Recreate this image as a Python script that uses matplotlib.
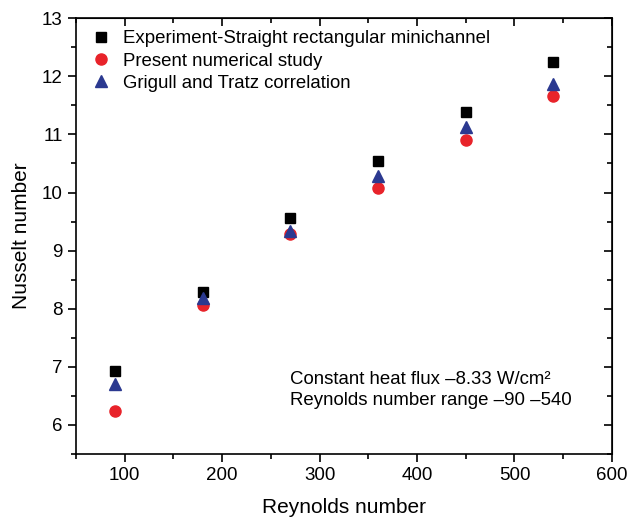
import matplotlib.pyplot as plt
from matplotlib.ticker import MultipleLocator

plt.rcParams['font.family'] = ['Liberation Sans', 'DejaVu Sans']

# Nusselt number vs Reynolds number
reynolds = [90, 180, 270, 360, 450, 540]
nu_experiment = [6.93, 8.28, 9.56, 10.55, 11.38, 12.24]
nu_numerical = [6.24, 8.06, 9.28, 10.07, 10.90, 11.66]
nu_grigull = [6.71, 8.18, 9.33, 10.29, 11.13, 11.86]

fig = plt.figure(figsize=(6.27, 5.2), dpi=100)
ax = fig.add_axes([0.121, 0.127, 0.855, 0.838])

ax.plot(reynolds, nu_experiment, 's', color='black', markersize=7,
        label='Experiment-Straight rectangular minichannel')
ax.plot(reynolds, nu_numerical, 'o', color='#e8232a', markersize=8,
        label='Present numerical study')
ax.plot(reynolds, nu_grigull, '^', color='#2b3990', markersize=9,
        label='Grigull and Tratz correlation')

ax.set_xlim(50, 600)
ax.set_ylim(5.5, 13)
ax.xaxis.set_major_locator(MultipleLocator(100))
ax.xaxis.set_minor_locator(MultipleLocator(50))
ax.yaxis.set_major_locator(MultipleLocator(1))
ax.yaxis.set_minor_locator(MultipleLocator(0.5))

ax.tick_params(which='both', direction='out', labelsize=13.5, width=1.2)
ax.tick_params(which='major', length=6)
ax.tick_params(which='minor', length=3.5)
for s in ax.spines.values():
    s.set_linewidth(1.2)

# inward ticks on the top and right edges
top = ax.secondary_xaxis('top')
top.set_xticks(range(100, 601, 100))
top.xaxis.set_minor_locator(MultipleLocator(50))
top.tick_params(which='both', direction='in', labeltop=False, width=1.2)
top.tick_params(which='major', length=6)
top.tick_params(which='minor', length=3.5)
right = ax.secondary_yaxis('right')
right.yaxis.set_major_locator(MultipleLocator(1))
right.yaxis.set_minor_locator(MultipleLocator(0.5))
right.tick_params(which='both', direction='in', labelright=False, width=1.2)
right.tick_params(which='major', length=6)
right.tick_params(which='minor', length=3.5)

ax.set_xlabel('Reynolds number', fontsize=15, labelpad=10)
ax.set_ylabel('Nusselt number', fontsize=15, labelpad=8)

ax.legend(loc='upper left', frameon=False, fontsize=13.4, handletextpad=0.5,
          borderaxespad=0.25, labelspacing=0.28, handlelength=1.4)

ax.text(0.4, 0.113, 'Constant heat flux \u20138.33 W/cm\u00b2\nReynolds number range \u201390 \u2013540',
        transform=ax.transAxes, fontsize=13.4, linespacing=1.3)

fig.savefig('out.png', dpi=100)
